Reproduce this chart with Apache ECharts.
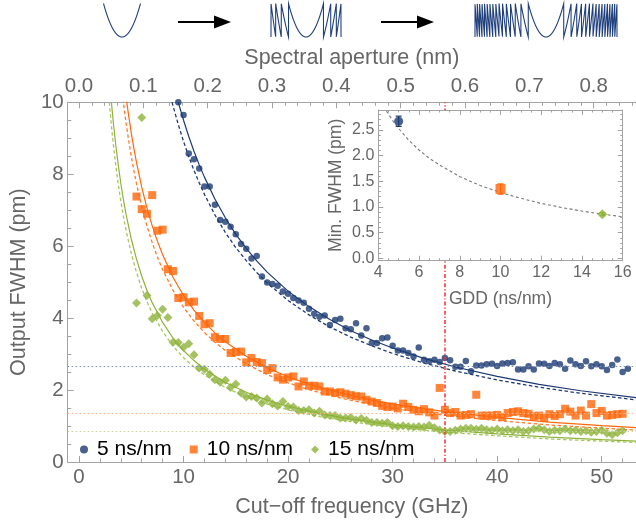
<!DOCTYPE html>
<html>
<head>
<meta charset="utf-8">
<script src="https://cdn.jsdelivr.net/npm/echarts@6/dist/echarts.min.js"></script>
<style>
  html, body { margin: 0; padding: 0; background: #fff; }
  #chart { width: 636px; height: 523px; }
</style>
</head>
<body>
<div id="chart"></div>
<script>
// ---- tick labels ----
const GHZ_TICKS = [0, 10, 20, 30, 40, 50];
const NM_TICKS = [0, 0.1, 0.2, 0.3, 0.4, 0.5, 0.6, 0.7, 0.8];
const GDD_TICKS = [4, 6, 8, 10, 12, 14, 16];
const MIN_FWHM_TICKS = [0, 0.5, 1, 1.5, 2, 2.5];
const NM_PER_GHZ = 0.01625;      // spectral aperture per GHz of cut-off frequency
const CUTOFF_MARK = 35;          // GHz

// ---- measured output FWHM (pm) vs cut-off frequency (GHz) ----
const SERIES_NAMES = ['5 ns/nm', '10 ns/nm', '15 ns/nm'];

const freq5 = [9.5,10,10.5,11,11.5,12,12.5,13,13.5,14,14.5,15,15.5,16,16.5,17,17.5,18,18.5,19,19.5,20,20.5,21,21.5,22,22.5,23,23.5,24,24.5,25,25.5,26,26.5,27,27.5,28,28.5,29,29.5,30,30.5,31,31.5,32,32.5,33,33.5,34,34.5,35,35.5,36,36.5,37,37.5,38,38.5,39,39.5,40,40.5,41,41.5,42,42.5,43,43.5,44,44.5,45,45.5,46,46.5,47,47.5,48,48.5,49,49.5,50,50.5,51,51.5,52,52.5];
const fwhm5 = [10.0,9.65,8.58,8.42,8.16,7.66,7.66,7.15,6.73,6.68,6.54,6.33,6.06,5.93,5.66,5.73,5.16,4.99,4.95,4.90,4.74,4.68,4.56,4.49,4.43,4.26,4.12,4.04,4.07,3.81,3.95,3.98,3.72,3.69,3.86,3.52,3.72,3.31,3.31,3.44,3.46,3.23,3.10,3.10,3.03,2.93,3.18,2.84,2.80,2.84,2.78,2.89,2.83,2.65,2.65,2.81,2.52,2.68,2.68,2.72,2.73,2.67,2.74,2.75,2.77,2.57,2.57,2.66,2.57,2.74,2.73,2.67,2.75,2.72,2.59,2.82,2.72,2.67,2.80,2.66,2.72,2.66,2.56,2.70,2.85,2.50,2.59];

const freq10 = [5.5,6,6.5,7,7.5,8,8.5,9,9.5,10,10.5,11,11.5,12,12.5,13,13.5,14,14.5,15,15.5,16,16.5,17,17.5,18,18.5,19,19.5,20,20.5,21,21.5,22,22.5,23,23.5,24,24.5,25,25.5,26,26.5,27,27.5,28,28.5,29,29.5,30,30.5,31,31.5,32,32.5,33,33.5,34,34.5,35,35.5,36,36.5,37,37.5,38,38.5,39,39.5,40,40.5,41,41.5,42,42.5,43,43.5,44,44.5,45,45.5,46,46.5,47,47.5,48,48.5,49,49.5,50,50.5,51,51.5,52];
const fwhm10 = [7.38,7.03,6.90,7.42,6.43,6.46,5.36,5.31,4.56,4.58,4.44,4.46,4.06,3.83,3.86,3.47,3.42,3.42,3.03,3.06,3.07,2.77,2.89,2.78,2.75,2.56,2.61,2.35,2.29,2.35,2.38,2.10,2.24,2.12,2.12,2.10,1.96,1.96,1.92,1.94,1.90,1.86,1.83,1.82,1.73,1.68,1.64,1.56,1.53,1.54,1.49,1.62,1.53,1.45,1.41,1.47,1.38,1.29,2.06,1.45,1.36,1.39,1.29,1.31,1.33,1.87,1.29,1.29,1.29,1.31,1.25,1.36,1.39,1.41,1.36,1.34,1.27,1.29,1.22,1.33,1.28,1.33,1.48,1.40,1.29,1.43,1.29,1.61,1.36,1.42,1.29,1.31,1.33,1.34];

const freq15 = [5.5,6,6.5,7,7.5,8,8.5,9,9.5,10,10.5,11,11.5,12,12.5,13,13.5,14,14.5,15,15.5,16,16.5,17,17.5,18,18.5,19,19.5,20,20.5,21,21.5,22,22.5,23,23.5,24,24.5,25,25.5,26,26.5,27,27.5,28,28.5,29,29.5,30,30.5,31,31.5,32,32.5,33,33.5,34,34.5,35,35.5,36,36.5,37,37.5,38,38.5,39,39.5,40,40.5,41,41.5,42,42.5,43,43.5,44,44.5,45,45.5,46,46.5,47,47.5,48,48.5,49,49.5,50,50.5,51,51.5,52];
const fwhm15 = [4.42,9.58,4.63,3.98,4.07,4.25,4.02,3.33,3.32,3.19,3.29,2.98,2.61,2.58,2.44,2.29,2.22,2.27,2.07,2.17,1.92,1.81,1.82,1.78,1.64,1.75,1.62,1.56,1.68,1.54,1.53,1.43,1.43,1.45,1.36,1.41,1.31,1.29,1.29,1.22,1.22,1.24,1.17,1.21,1.16,1.10,1.10,1.08,1.10,1.01,0.99,1.01,0.99,0.97,0.99,0.97,1.02,0.95,0.89,0.85,0.85,0.88,0.92,0.94,0.94,0.91,0.94,0.90,0.88,0.92,0.87,0.90,0.87,0.90,0.85,0.87,0.92,0.94,0.90,0.85,0.88,0.87,0.92,0.87,0.88,0.85,0.87,0.83,0.85,0.88,0.80,0.76,0.81,0.87];

// ---- fitted (solid) and simulated (dashed) curves ----
const fit5F  = [9.5,10,10.5,11,11.5,12,13,14,15,16,17,18,20,22,24,26,28,30,33,36,40,44,48,53.5];
const fit5V  = [10.0,9.50,9.05,8.64,8.26,7.92,7.31,6.79,6.33,5.94,5.59,5.28,4.75,4.32,3.96,3.65,3.39,3.17,2.88,2.64,2.38,2.16,1.98,1.78];
const sim5F  = [8.9,9.5,10,10.5,11,11.5,12,13,14,15,16,17,18,20,22,24,26,28,30,33,36,40,44,48,53.5];
const sim5V  = [10.0,9.38,8.91,8.49,8.11,7.76,7.44,6.87,6.38,5.96,5.60,5.27,4.98,4.49,4.09,3.75,3.47,3.23,3.02,2.75,2.53,2.28,2.08,1.91,1.72];
const fit10F = [4.5,4.75,5,5.25,5.5,6,6.5,7,7.5,8,9,10,11,12,13,14,16,18,20,22,25,28,31,35,40,45,50,53.5];
const fit10V = [10.15,9.63,9.15,8.72,8.33,7.64,7.06,6.57,6.14,5.76,5.13,4.63,4.22,3.88,3.59,3.34,2.94,2.62,2.37,2.16,1.92,1.72,1.57,1.40,1.24,1.11,1.01,0.955];
const sim10F = [4.2,4.5,4.75,5,5.25,5.5,6,6.5,7,7.5,8,9,10,11,12,13,14,16,18,20,22,25,28,31,35,40,45,50,53.5];
const sim10V = [10.1,9.43,8.94,8.50,8.10,7.74,7.10,6.56,6.10,5.70,5.35,4.77,4.30,3.92,3.60,3.33,3.10,2.73,2.43,2.20,2.01,1.78,1.60,1.45,1.30,1.15,1.03,0.94,0.885];
const fit15F = [3.1,3.3,3.5,3.75,4,4.25,4.5,5,5.5,6,6.5,7,8,9,10,11,12,14,16,18,20,23,26,30,35,40,45,50,53.5];
const fit15V = [10.0,9.39,8.86,8.27,7.75,7.29,6.89,6.20,5.64,5.17,4.77,4.43,3.88,3.44,3.10,2.82,2.58,2.21,1.94,1.72,1.55,1.35,1.19,1.03,0.89,0.78,0.69,0.62,0.58];
const sim15F = [2.9,3.1,3.3,3.5,3.75,4,4.25,4.5,5,5.5,6,6.5,7,8,9,10,11,12,14,16,18,20,23,26,30,35,40,45,50,53.5];
const sim15V = [10.0,9.35,8.79,8.29,7.73,7.25,6.82,6.44,5.80,5.27,4.83,4.46,4.14,3.63,3.22,2.90,2.64,2.42,2.07,1.81,1.61,1.45,1.26,1.12,0.97,0.83,0.73,0.64,0.58,0.54];

// ---- inset: minimum FWHM vs GDD ----
const gdd = [5, 10, 15];
const minFwhm = [2.67, 1.35, 0.86];
const minFwhmErr = [0.10, 0.10, 0.03];
const trendGdd  = [4.4,4.5,4.75,5,5.5,6,6.5,7,8,9,10,11,12,13,14,15,16];
const trendFwhm = [2.87,2.81,2.66,2.53,2.30,2.11,1.95,1.82,1.59,1.42,1.28,1.17,1.07,0.99,0.92,0.86,0.81];

// ---- styling / layout ----
const COLORS = ['#1c3a72', '#ff670a', '#8db33a'];
const LEVEL_COLORS = ['#7c8fb5', '#ffb48c', '#c4d49c'];
const SIM_COLORS = ['#1c3a72', '#ff7a2a', '#a8c65e'];
const SYMBOLS = ['circle', 'rect', 'diamond'];
const SYMBOL_SIZES = [6.5, 8, 9];
const FRAME = '#a3a3a3';
const LABEL = '#666666';
const FONT = '"Liberation Sans", Arial, Helvetica, sans-serif';

const MAIN = { left: 62, top: 102.3, right: 0, bottom: 60.7 };
const X_MIN = -1.08, X_MAX = 53.28;
const INSET = { left: 378.3, top: 110, width: 244.4, height: 150.7 };
const INSET_Y_MIN = -0.047, INSET_Y_MAX = 2.89;

function between(from, to, step, skip) {
  const out = [];
  for (let v = from; v <= to + 1e-9; v += step) {
    const r = Math.round(v * 1000) / 1000;
    if (!skip.some(s => Math.abs(s - r) < 1e-6)) out.push(r);
  }
  return out;
}
const pairs = (xs, ys) => xs.map((x, i) => [x, ys[i]]);

// wrapped quadratic phase glyph
function phaseGlyph(cx, halfWidth, span, top, bottom) {
  const pts = [];
  const n = Math.round(span * 700);
  const h = bottom - top;
  for (let i = 0; i <= n; i++) {
    const u = -span + 2 * span * i / n;
    const p = u * u;
    const y = span <= 1 ? p : p - Math.floor(p);
    pts.push([cx + u * halfWidth / span, bottom - y * h]);
  }
  return {
    type: 'polyline', z: 50, silent: true,
    shape: { points: pts },
    style: { stroke: '#1f3f7d', lineWidth: 1.1, fill: null }
  };
}
function arrow(x1, x2, y) {
  return [
    { type: 'line', z: 50, shape: { x1: x1, y1: y, x2: x2 - 12, y2: y }, style: { stroke: '#000', lineWidth: 2 } },
    { type: 'polygon', z: 50, shape: { points: [[x2 - 17, y - 6.5], [x2, y], [x2 - 17, y + 6.5]] }, style: { fill: '#000' } }
  ];
}

const tickFont = { color: LABEL, fontSize: 20.5, fontFamily: FONT };
const nameFont = { color: LABEL, fontSize: 21.5, fontFamily: FONT };
const insetTickFont = { color: LABEL, fontSize: 16, fontFamily: FONT };
const insetNameFont = { color: LABEL, fontSize: 17.5, fontFamily: FONT };

const chart = echarts.init(document.getElementById('chart'), null, { renderer: 'canvas' });

const dataSets = [[freq5, fwhm5], [freq10, fwhm10], [freq15, fwhm15]];
const fits = [[fit5F, fit5V], [fit10F, fit10V], [fit15F, fit15V]];
const sims = [[sim5F, sim5V], [sim10F, sim10V], [sim15F, sim15V]];

const series = [];
for (let k = 0; k < 3; k++) {
  series.push({
    name: 'sim ' + SERIES_NAMES[k], type: 'line', xAxisIndex: 0, yAxisIndex: 0,
    data: pairs(sims[k][0], sims[k][1]), showSymbol: false, smooth: false,
    silent: true, z: 2,
    lineStyle: { color: SIM_COLORS[k], width: 1.3, type: [3.5, 2.5] }
  });
  series.push({
    name: 'fit ' + SERIES_NAMES[k], type: 'line', xAxisIndex: 0, yAxisIndex: 0,
    data: pairs(fits[k][0], fits[k][1]), showSymbol: false, smooth: false,
    silent: true, z: 2,
    lineStyle: { color: COLORS[k], width: 1.2 }
  });
}
for (let k = 0; k < 3; k++) {
  const markData = [{ yAxis: minFwhm[k], lineStyle: { color: LEVEL_COLORS[k], width: 1, type: [1.5, 2.5] } }];
  if (k === 0) {
    markData.push({ xAxis: CUTOFF_MARK, lineStyle: { color: '#ff2b2b', width: 1.5, type: [4, 2, 1.2, 2] } });
  }
  series.push({
    name: SERIES_NAMES[k], type: 'scatter', xAxisIndex: 0, yAxisIndex: 0,
    data: pairs(dataSets[k][0], dataSets[k][1]),
    symbol: SYMBOLS[k], symbolSize: SYMBOL_SIZES[k], z: 3,
    itemStyle: { color: COLORS[k] },
    markLine: { silent: true, symbol: 'none', label: { show: false }, animation: false, data: markData }
  });
}
// inset
series.push({
  name: 'trend', type: 'line', xAxisIndex: 4, yAxisIndex: 1,
  data: pairs(trendGdd, trendFwhm), showSymbol: false, smooth: false,
  silent: true, z: 30,
  lineStyle: { color: '#7a7a7a', width: 1.1, type: [3, 2.5] }
});
series.push({
  name: 'error', type: 'custom', xAxisIndex: 4, yAxisIndex: 1, z: 31, silent: true,
  data: gdd.map((g, i) => [g, minFwhm[i], minFwhmErr[i]]),
  renderItem: function (params, api) {
    const x = api.value(0), y = api.value(1), e = api.value(2);
    const hi = api.coord([x, y + e]), lo = api.coord([x, y - e]);
    const c = COLORS[params.dataIndex];
    const st = { stroke: c, lineWidth: 1.2 };
    return {
      type: 'group', children: [
        { type: 'line', shape: { x1: hi[0], y1: hi[1], x2: lo[0], y2: lo[1] }, style: st },
        { type: 'line', shape: { x1: hi[0] - 3, y1: hi[1], x2: hi[0] + 3, y2: hi[1] }, style: st },
        { type: 'line', shape: { x1: lo[0] - 3, y1: lo[1], x2: lo[0] + 3, y2: lo[1] }, style: st }
      ]
    };
  }
});
series.push({
  name: 'minimum', type: 'scatter', xAxisIndex: 4, yAxisIndex: 1, z: 32, silent: true,
  data: gdd.map((g, i) => ({
    value: [g, minFwhm[i]], symbol: SYMBOLS[i], symbolSize: [9, 10, 10][i],
    itemStyle: { color: COLORS[i] }
  }))
});

const graphic = [
  { type: 'rect', z: 10, silent: true,
    shape: { x: INSET.left, y: INSET.top, width: INSET.width, height: INSET.height },
    style: { fill: '#ffffff' } },
  phaseGlyph(122, 18.5, 1, 3.5, 37),
  phaseGlyph(306, 35, 2, 3.5, 37),
  phaseGlyph(546, 71, 4, 3.5, 37)
].concat(arrow(178, 231, 22)).concat(arrow(381, 434, 22));

const insetMinorY = between(0.1, 2.8, 0.1, MIN_FWHM_TICKS);

const option = {
  animation: false,
  backgroundColor: '#ffffff',
  textStyle: { fontFamily: FONT },
  grid: [
    { left: MAIN.left, top: MAIN.top, right: MAIN.right, bottom: MAIN.bottom, containLabel: false },
    { left: INSET.left, top: INSET.top, width: INSET.width, height: INSET.height, containLabel: false }
  ],
  legend: {
    data: SERIES_NAMES.map((n, i) => ({ name: n, icon: SYMBOLS[i] })),
    left: 75, top: 434, itemWidth: 8, itemHeight: 8, itemGap: 18,
    selectedMode: false,
    textStyle: { color: '#000', fontSize: 21, fontFamily: FONT, padding: [0, 0, 0, 4] }
  },
  xAxis: [
    { // cut-off frequency, major
      gridIndex: 0, type: 'value', position: 'bottom', min: X_MIN, max: X_MAX,
      axisLine: { show: true, onZero: false, lineStyle: { color: FRAME, width: 1 } },
      axisTick: { show: true, inside: true, length: 6, customValues: GHZ_TICKS, lineStyle: { color: FRAME } },
      axisLabel: Object.assign({ customValues: GHZ_TICKS, margin: 5 }, tickFont),
      splitLine: { show: false },
      name: 'Cut\u2212off frequency (GHz)', nameLocation: 'middle', nameGap: 34, nameTextStyle: nameFont
    },
    { // cut-off frequency, minor
      gridIndex: 0, type: 'value', position: 'bottom', min: X_MIN, max: X_MAX,
      axisLine: { show: false },
      axisTick: { show: true, inside: true, length: 3.5, customValues: between(0, 52, 2, GHZ_TICKS), lineStyle: { color: FRAME } },
      axisLabel: { show: false }, splitLine: { show: false }
    },
    { // spectral aperture, major
      gridIndex: 0, type: 'value', position: 'top', min: X_MIN * NM_PER_GHZ, max: X_MAX * NM_PER_GHZ,
      axisLine: { show: true, onZero: false, lineStyle: { color: FRAME, width: 1 } },
      axisTick: { show: true, inside: true, length: 6, customValues: NM_TICKS, lineStyle: { color: FRAME } },
      axisLabel: Object.assign({ customValues: NM_TICKS, margin: 5, formatter: v => v.toFixed(1) }, tickFont),
      splitLine: { show: false },
      name: 'Spectral aperture (nm)', nameLocation: 'middle', nameGap: 33, nameTextStyle: nameFont
    },
    { // spectral aperture, minor
      gridIndex: 0, type: 'value', position: 'top', min: X_MIN * NM_PER_GHZ, max: X_MAX * NM_PER_GHZ,
      axisLine: { show: false },
      axisTick: { show: true, inside: true, length: 3.5, customValues: between(0, 0.86, 0.02, NM_TICKS), lineStyle: { color: FRAME } },
      axisLabel: { show: false }, splitLine: { show: false }
    },
    { // inset GDD
      gridIndex: 1, type: 'value', position: 'bottom', min: 4, max: 16, interval: 2, z: 20,
      axisLine: { show: true, onZero: false, lineStyle: { color: FRAME, width: 1 } },
      axisTick: { show: true, inside: true, length: 5, lineStyle: { color: FRAME } },
      minorTick: { show: true, splitNumber: 4, length: 2.5, lineStyle: { color: FRAME } },
      axisLabel: Object.assign({ margin: 4, showMinLabel: true, showMaxLabel: true }, insetTickFont),
      splitLine: { show: false },
      name: 'GDD (ns/nm)', nameLocation: 'middle', nameGap: 29, nameTextStyle: insetNameFont
    },
    { // inset top frame, mirrored ticks
      gridIndex: 1, type: 'value', position: 'top', min: 4, max: 16, interval: 2, z: 20,
      axisLine: { show: true, onZero: false, lineStyle: { color: FRAME, width: 1 } },
      axisTick: { show: true, inside: true, length: 5, lineStyle: { color: FRAME } },
      minorTick: { show: true, splitNumber: 4, length: 2.5, lineStyle: { color: FRAME } },
      axisLabel: { show: false }, splitLine: { show: false }
    }
  ],
  yAxis: [
    { // output FWHM
      gridIndex: 0, type: 'value', position: 'left', min: 0, max: 10, interval: 2,
      axisLine: { show: true, onZero: false, lineStyle: { color: FRAME, width: 1 } },
      axisTick: { show: true, inside: true, length: 6, lineStyle: { color: FRAME } },
      minorTick: { show: true, splitNumber: 4, length: 3.5, lineStyle: { color: FRAME } },
      axisLabel: Object.assign({ margin: 4 }, tickFont),
      splitLine: { show: false },
      name: 'Output FWHM (pm)', nameLocation: 'middle', nameGap: 34, nameRotate: 90, nameTextStyle: nameFont
    },
    { // inset min FWHM, major
      gridIndex: 1, type: 'value', position: 'left', min: INSET_Y_MIN, max: INSET_Y_MAX, z: 20,
      axisLine: { show: true, onZero: false, lineStyle: { color: FRAME, width: 1 } },
      axisTick: { show: true, inside: true, length: 5, customValues: MIN_FWHM_TICKS, lineStyle: { color: FRAME } },
      axisLabel: Object.assign({ customValues: MIN_FWHM_TICKS, margin: 4, formatter: v => v.toFixed(1) }, insetTickFont),
      splitLine: { show: false },
      name: 'Min. FWHM (pm)', nameLocation: 'middle', nameGap: 33, nameRotate: 90, nameTextStyle: insetNameFont
    },
    { // inset min FWHM, minor
      gridIndex: 1, type: 'value', position: 'left', min: INSET_Y_MIN, max: INSET_Y_MAX, z: 20,
      axisLine: { show: false },
      axisTick: { show: true, inside: true, length: 2.5, customValues: insetMinorY, lineStyle: { color: FRAME } },
      axisLabel: { show: false }, splitLine: { show: false }
    },
    { // inset right frame, mirrored major ticks
      gridIndex: 1, type: 'value', position: 'right', min: INSET_Y_MIN, max: INSET_Y_MAX, z: 20,
      axisLine: { show: true, onZero: false, lineStyle: { color: FRAME, width: 1 } },
      axisTick: { show: true, inside: true, length: 5, customValues: MIN_FWHM_TICKS, lineStyle: { color: FRAME } },
      axisLabel: { show: false }, splitLine: { show: false }
    },
    { // inset right frame, mirrored minor ticks
      gridIndex: 1, type: 'value', position: 'right', min: INSET_Y_MIN, max: INSET_Y_MAX, z: 20,
      axisLine: { show: false },
      axisTick: { show: true, inside: true, length: 2.5, customValues: insetMinorY, lineStyle: { color: FRAME } },
      axisLabel: { show: false }, splitLine: { show: false }
    }
  ],
  graphic: graphic,
  series: series
};
chart.setOption(option);
</script>
</body>
</html>
